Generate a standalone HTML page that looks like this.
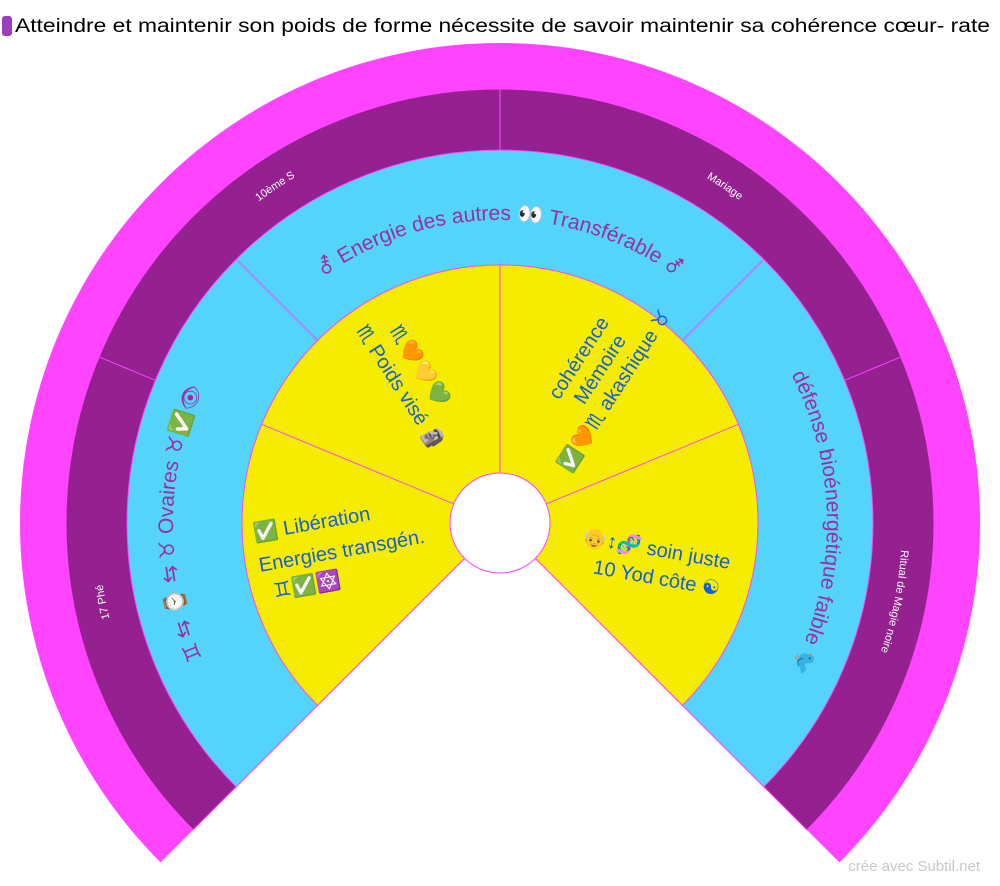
<!DOCTYPE html>
<html><head><meta charset="utf-8"><style>
html,body{margin:0;padding:0;background:#fff;}
svg{display:block;font-family:"Liberation Sans","DejaVu Sans",sans-serif;}
</style></head><body>
<svg width="1000" height="886" viewBox="0 0 1000 886" xmlns="http://www.w3.org/2000/svg">
<defs>
<path id="pL" d="M215.7,807.3 A402,402 0 0 1 128.6,369.2"/>
<path id="pTL" d="M128.6,369.2 A402,402 0 0 1 500,121"/>
<path id="pTR" d="M500,121 A402,402 0 0 1 871.4,369.2"/>
<path id="pR" d="M871.4,369.2 A402,402 0 0 1 784.3,807.3"/>
<path id="bL" d="M268.8,754.2 A327,327 0 0 1 268.8,291.8"/>
<path id="bT" d="M285.7,308.7 A303,303 0 0 1 714.3,308.7"/>
<path id="bR" d="M731.2,291.8 A327,327 0 0 1 731.2,754.2"/>
</defs>
<rect x="2" y="16" width="10" height="20" rx="3" fill="#9b3fc0"/>
<text x="15" y="32" font-size="19" fill="#000" textLength="975" lengthAdjust="spacingAndGlyphs">Atteindre et maintenir son poids de forme nécessite de savoir maintenir sa cohérence cœur- rate</text>

<path d="M500,523 L160.6,862.4 A480,480 0 1 1 839.4,862.4 Z" fill="#ff44ff"/>
<path d="M500,523 L193.1,829.9 A434,434 0 1 1 806.9,829.9 Z" fill="#952090" stroke="#ff44ff" stroke-width="1"/>
<path d="M500,523 L236.2,786.8 A373,373 0 1 1 763.8,786.8 Z" fill="#55d4fb" stroke="#ff44ff" stroke-width="1"/>
<path d="M500,523 L317.6,705.4 A258,258 0 1 1 682.4,705.4 Z" fill="#f5ec00" stroke="#ff44ff" stroke-width="1"/>
<circle cx="500" cy="523" r="50" fill="#fff" stroke="#ff44ff" stroke-width="1"/>
<g stroke="#ff44ff" stroke-width="1">
<line x1="155.4" y1="380.3" x2="99" y2="356.9"/>
<line x1="500" y1="150" x2="500" y2="89"/>
<line x1="844.6" y1="380.3" x2="901" y2="356.9"/>
<line x1="317.6" y1="340.6" x2="236.2" y2="259.2"/>
<line x1="682.4" y1="340.6" x2="763.8" y2="259.2"/>
<line x1="453.8" y1="503.9" x2="261.6" y2="424.3"/>
<line x1="500" y1="473" x2="500" y2="265"/>
<line x1="546.2" y1="503.9" x2="738.4" y2="424.3"/>
</g>
<g fill="#fff" font-size="11" text-anchor="middle">
<text><textPath href="#pL" startOffset="50%">17 Phé</textPath></text>
<text><textPath href="#pTL" startOffset="50%">10ème S</textPath></text>
<text><textPath href="#pTR" startOffset="50%">Mariage</textPath></text>
<text><textPath href="#pR" startOffset="50%">Ritual de Magie noire</textPath></text>
</g>
<g fill="#9b2fa0" font-size="21" text-anchor="middle">
<text><textPath href="#bL" startOffset="50%">♊ ⇆ ⌚ ⇆ ♉ Ovaires ♉✅👁</textPath></text>
<text><textPath href="#bT" startOffset="50%">⚦ Energie des autres 👀 Transférable ⚦</textPath></text>
<text><textPath href="#bR" startOffset="50%">défense bioénergétique faible 🐦</textPath></text>
</g>
<g fill="#1560d0" font-size="20">
<g transform="rotate(-10 258 560)">
<text x="258" y="540">✅ Libération</text>
<text x="258" y="572">Energies transgén.</text>
<text x="268" y="600">♊✅🔯</text>
</g>
<g transform="translate(400,388) rotate(57)" text-anchor="middle">
<text x="-8" y="-22">♏🧡💛💚</text>
<text x="0" y="6">♏ Poids visé 🗿</text>
</g>
<g transform="translate(595,378) rotate(-57)" text-anchor="middle">
<text x="8" y="-18">cohérence</text>
<text x="10" y="6">Mémoire</text>
<text x="0" y="30">✅🧡♏ akashique ♉</text>
</g>
<g transform="rotate(10 660 570)">
<text x="578" y="557">👴↕🧬 soin juste</text>
<text x="594" y="585">10 Yod côte ☯</text>
</g>
</g>
<text x="980" y="871" font-size="15" fill="#c8c8c8" text-anchor="end">crée avec Subtil.net</text>
</svg>
</body></html>
